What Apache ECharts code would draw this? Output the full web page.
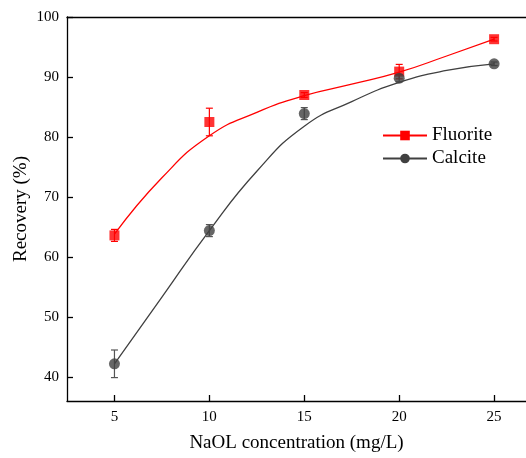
<!DOCTYPE html>
<html>
<head>
<meta charset="utf-8">
<script src="https://cdn.jsdelivr.net/npm/echarts@6/dist/echarts.min.js"></script>
<style>html,body{margin:0;padding:0;background:#fff;}#c{width:526px;height:458px;}</style>
</head>
<body>
<div id="c"></div>
<script>
// ---- data ----
const xValues = [5, 10, 15, 20, 25];
const fluorite = [63.6, 82.5, 87.0, 90.9, 96.3];
const fluoriteErr = [1.0, 2.3, 0.4, 1.2, 0.3];
const calcite = [42.2, 64.4, 83.9, 89.8, 92.2];
const calciteErr = [2.3, 1.0, 1.0, 0.6, 0.3];
// fitted curves
const curveX = [5, 7.5, 10, 12.5, 15, 17.5, 20, 22.5, 25];
const fluoriteCurveY = [63.8, 73.2, 80.2, 84.1, 86.9, 88.8, 90.8, 93.5, 96.3];
const calciteCurveY = [42.2, 53.3, 64.4, 74.3, 81.8, 85.9, 89.1, 91.1, 92.2];
const xTicks = [5, 10, 15, 20, 25];
const yTicks = [40, 50, 60, 70, 80, 90, 100];

const RED = '#ff0000';
const GREY = '#404040';
const FONT = 'Liberation Serif';

function pairs(xs, ys) { return xs.map((x, i) => [x, ys[i]]); }
function errData(xs, ys, es) { return xs.map((x, i) => [x, ys[i], es[i]]); }

function errRender(color) {
  return function (params, api) {
    const x = api.value(0), y = api.value(1), e = api.value(2);
    const top = api.coord([x, y + e]);
    const bot = api.coord([x, y - e]);
    const hw = 3.5;
    const style = { stroke: color, lineWidth: 1.2, fill: null };
    return {
      type: 'group',
      children: [
        { type: 'line', shape: { x1: top[0], y1: top[1], x2: bot[0], y2: bot[1] }, style: style },
        { type: 'line', shape: { x1: top[0] - hw, y1: top[1], x2: top[0] + hw, y2: top[1] }, style: style },
        { type: 'line', shape: { x1: bot[0] - hw, y1: bot[1], x2: bot[0] + hw, y2: bot[1] }, style: style }
      ]
    };
  };
}

const chart = echarts.init(document.getElementById('c'));
chart.setOption({
  backgroundColor: '#fff',
  animation: false,
  grid: { left: 67, right: 0, top: 17, bottom: 57, containLabel: false },
  legend: {
    data: ['Fluorite', 'Calcite'],
    orient: 'vertical',
    left: 377,
    top: 121,
    itemWidth: 44,
    itemHeight: 12,
    itemGap: 4,
    textStyle: { fontFamily: FONT, fontSize: 19, color: '#000' }
  },
  xAxis: [{
    type: 'value', min: 2.5, max: 26.68,
    name: 'NaOL concentration (mg/L)', nameLocation: 'middle', nameGap: 33,
    nameTextStyle: { fontFamily: FONT, fontSize: 19, color: '#000' },
    axisLine: { lineStyle: { color: '#000', width: 1.3 } },
    axisTick: { inside: true, length: 6, lineStyle: { color: '#000', width: 1.3 }, customValues: xTicks },
    axisLabel: { fontFamily: FONT, fontSize: 15, color: '#000', margin: 9, customValues: xTicks },
    splitLine: { show: false }
  }, {
    type: 'value', position: 'top', min: 2.5, max: 26.68,
    axisLine: { show: true, lineStyle: { color: '#000', width: 1.3 } },
    axisTick: { show: false }, axisLabel: { show: false }, splitLine: { show: false }
  }],
  yAxis: {
    type: 'value', min: 36, max: 100,
    name: 'Recovery (%)', nameLocation: 'middle', nameGap: 36, nameRotate: 90, nameMoveOverlap: false,
    nameTextStyle: { fontFamily: FONT, fontSize: 19, color: '#000' },
    axisLine: { show: true, lineStyle: { color: '#000', width: 1.3 } },
    axisTick: { show: true, inside: true, length: 6, lineStyle: { color: '#000', width: 1.3 }, customValues: yTicks },
    axisLabel: { fontFamily: FONT, fontSize: 15, color: '#000', margin: 8, customValues: yTicks },
    splitLine: { show: false }
  },
  series: [
    {
      name: 'Fluorite', type: 'line', smooth: 0.5, data: pairs(curveX, fluoriteCurveY),
      showSymbol: false, symbol: 'rect', symbolSize: 10,
      lineStyle: { color: RED, width: 1.3 }, itemStyle: { color: RED }, z: 2
    },
    {
      name: 'Calcite', type: 'line', smooth: 0.5, data: pairs(curveX, calciteCurveY),
      showSymbol: false, symbol: 'circle', symbolSize: 10,
      lineStyle: { color: GREY, width: 1.3 }, itemStyle: { color: GREY }, z: 2
    },
    {
      name: 'FluoriteErr', type: 'custom', renderItem: errRender(RED),
      data: errData(xValues, fluorite, fluoriteErr), z: 3
    },
    {
      name: 'CalciteErr', type: 'custom', renderItem: errRender('#555'),
      data: errData(xValues, calcite, calciteErr), z: 3
    },
    {
      name: 'FluoritePts', type: 'scatter', symbol: 'rect', symbolSize: 10,
      data: pairs(xValues, fluorite), itemStyle: { color: RED }, z: 4
    },
    {
      name: 'CalcitePts', type: 'scatter', symbol: 'circle', symbolSize: 11,
      data: pairs(xValues, calcite), itemStyle: { color: GREY }, z: 4
    }
  ]
});
</script>
</body>
</html>
